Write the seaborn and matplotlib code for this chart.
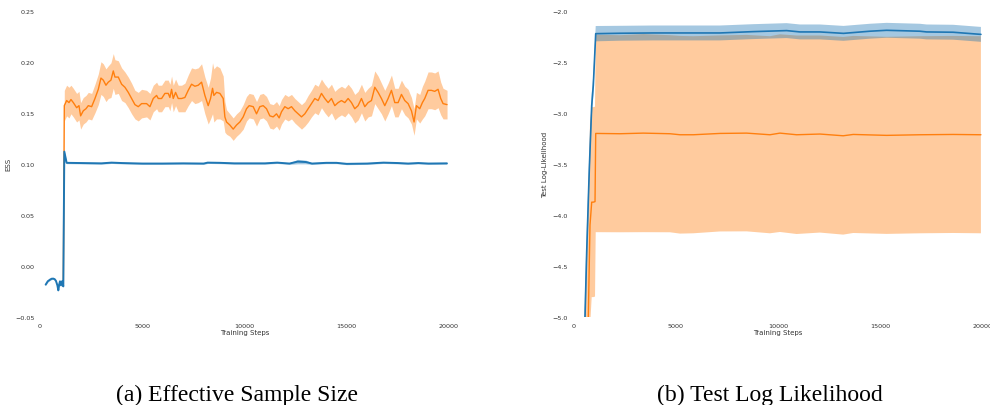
import numpy as np
import matplotlib
matplotlib.use("Agg")
import matplotlib.pyplot as plt
import seaborn as sns

# ESS, orange run (mean and half-width of the band)
ess_orange_steps = [1140, 1189, 1303, 1417, 1515, 1629, 1792, 1906, 1987, 2118,
                    2248, 2362, 2525, 2688, 2851, 2981, 3095, 3225, 3339, 3470,
                    3584, 3665, 3828, 3991, 4154, 4317, 4480, 4643, 4806, 4968,
                    5213, 5376, 5539, 5702, 5783, 5946, 6109, 6272, 6353, 6435,
                    6516, 6630, 6760, 6923, 7086, 7249, 7412, 7575, 7738, 7901,
                    8064, 8226, 8340, 8438, 8503, 8634, 8797, 8960, 9041, 9122,
                    9285, 9448, 9611, 9774, 9937, 10100, 10230, 10426, 10589, 10751,
                    10914, 11077, 11240, 11403, 11566, 11696, 11810, 11973, 12136, 12299,
                    12462, 12625, 12788, 12951, 13113, 13276, 13439, 13602, 13765, 13928,
                    14091, 14254, 14417, 14580, 14743, 14906, 15069, 15232, 15394, 15557,
                    15720, 15883, 16046, 16209, 16372, 16535, 16698, 16861, 17024, 17187,
                    17350, 17513, 17676, 17839, 18002, 18165, 18294, 18408, 18571, 18701,
                    18815, 18978, 19141, 19304, 19467, 19597, 19711, 19906]
ess_orange_mean = [-0.020, 0.157, 0.162, 0.160, 0.163, 0.160, 0.155, 0.157, 0.147, 0.152,
                   0.154, 0.157, 0.156, 0.164, 0.173, 0.184, 0.182, 0.177, 0.180, 0.182,
                   0.191, 0.185, 0.185, 0.178, 0.175, 0.170, 0.164, 0.158, 0.156, 0.159,
                   0.159, 0.156, 0.164, 0.167, 0.164, 0.164, 0.169, 0.169, 0.165, 0.173,
                   0.164, 0.170, 0.164, 0.164, 0.165, 0.172, 0.178, 0.176, 0.177, 0.180,
                   0.167, 0.157, 0.164, 0.174, 0.167, 0.170, 0.169, 0.164, 0.146, 0.141,
                   0.138, 0.134, 0.138, 0.141, 0.146, 0.154, 0.157, 0.156, 0.149, 0.156,
                   0.157, 0.154, 0.147, 0.146, 0.149, 0.145, 0.151, 0.156, 0.154, 0.156,
                   0.152, 0.149, 0.146, 0.149, 0.154, 0.159, 0.164, 0.162, 0.169, 0.164,
                   0.160, 0.164, 0.157, 0.160, 0.162, 0.160, 0.164, 0.160, 0.154, 0.157,
                   0.164, 0.156, 0.160, 0.162, 0.175, 0.170, 0.164, 0.157, 0.164, 0.172,
                   0.160, 0.160, 0.168, 0.162, 0.159, 0.152, 0.141, 0.157, 0.154, 0.160,
                   0.164, 0.172, 0.172, 0.171, 0.173, 0.164, 0.159, 0.158]
ess_orange_err = [0.0, 0.015, 0.015, 0.015, 0.014, 0.014, 0.014, 0.014, 0.013, 0.013,
                  0.013, 0.013, 0.013, 0.014, 0.015, 0.016, 0.016, 0.016, 0.016, 0.017,
                  0.017, 0.017, 0.016, 0.016, 0.015, 0.015, 0.015, 0.014, 0.014, 0.014,
                  0.013, 0.013, 0.013, 0.013, 0.013, 0.013, 0.013, 0.013, 0.013, 0.013,
                  0.013, 0.013, 0.013, 0.013, 0.014, 0.015, 0.016, 0.017, 0.017, 0.018,
                  0.018, 0.018, 0.020, 0.025, 0.026, 0.026, 0.025, 0.022, 0.015, 0.012,
                  0.011, 0.011, 0.011, 0.011, 0.012, 0.012, 0.012, 0.012, 0.012, 0.012,
                  0.012, 0.012, 0.012, 0.012, 0.012, 0.012, 0.012, 0.012, 0.012, 0.012,
                  0.012, 0.012, 0.012, 0.012, 0.013, 0.013, 0.014, 0.014, 0.014, 0.014,
                  0.014, 0.014, 0.014, 0.014, 0.014, 0.014, 0.014, 0.014, 0.014, 0.014,
                  0.014, 0.014, 0.014, 0.015, 0.016, 0.016, 0.015, 0.015, 0.015, 0.015,
                  0.014, 0.014, 0.014, 0.014, 0.014, 0.013, 0.013, 0.013, 0.014, 0.016,
                  0.017, 0.018, 0.018, 0.018, 0.018, 0.016, 0.015, 0.014]

# ESS, blue run
ess_blue_steps = [277, 380, 489, 570, 652, 720, 782, 850, 896, 940,
                  977, 1026, 1075, 1140, 1189, 1303, 2000, 3000, 3500, 4000,
                  5000, 6000, 7000, 8000, 8200, 8800, 9500, 10000, 11000, 11600,
                  12200, 12600, 13000, 13300, 14000, 14500, 15000, 16000, 16800, 17500,
                  18000, 18500, 19000, 19900]
ess_blue_mean = [-0.0183, -0.0150, -0.0134, -0.0125, -0.0124, -0.0130, -0.0147, -0.0190, -0.0239, -0.0180,
                 -0.0150, -0.0190, -0.0150, -0.0200, 0.1120, 0.1010, 0.1008, 0.1005, 0.1012, 0.1008,
                 0.1003, 0.1003, 0.1005, 0.1003, 0.1012, 0.1010, 0.1005, 0.1005, 0.1005, 0.1012,
                 0.1003, 0.1022, 0.1018, 0.1003, 0.1010, 0.1010, 0.1000, 0.1003, 0.1012, 0.1008,
                 0.1003, 0.1008, 0.1003, 0.1005]
ess_blue_err = [0.0008] * 31 + [0.0022, 0.0018] + [0.0008] * 11

# Test log likelihood, blue run
ll_blue_steps = [250, 571, 654, 781, 898, 977, 1094, 2279, 3904, 7160,
                 8784, 10414, 11063, 12039, 13190, 14480, 15294, 16919, 17245, 18544,
                 19900]
ll_blue_mean = [-8.0, -5.0, -4.36, -3.55, -2.93, -2.73, -2.225, -2.221, -2.218, -2.218,
                -2.205, -2.195, -2.208, -2.208, -2.222, -2.201, -2.192, -2.201, -2.208, -2.211,
                -2.232]
ll_blue_err = [0.3, 0.25, 0.2, 0.15, 0.12, 0.1, 0.075, 0.073, 0.073, 0.073,
               0.073, 0.073, 0.073, 0.073, 0.073, 0.073, 0.073, 0.073, 0.073, 0.073,
               0.073]

# Test log likelihood, orange run
ll_orange_steps = [250, 732, 815, 898, 977, 1060, 1094, 2279, 3416, 4720,
                   5208, 5859, 7160, 8462, 9600, 10088, 10902, 12039, 13176, 13664,
                   15294, 16919, 18544, 19900]
ll_orange_mean = [-8.0, -5.0, -4.10, -3.875, -3.875, -3.87, -3.202, -3.205, -3.199, -3.205,
                  -3.215, -3.215, -3.202, -3.199, -3.215, -3.199, -3.215, -3.208, -3.225, -3.212,
                  -3.221, -3.215, -3.212, -3.215]
ll_orange_err = [1.2, 1.1, 1.0, 0.93, 0.93, 0.93, 0.967, 0.965, 0.97, 0.965,
                 0.968, 0.965, 0.96, 0.962, 0.965, 0.968, 0.972, 0.965, 0.968, 0.965,
                 0.965, 0.965, 0.965, 0.965]

blue = "#1f77b4"
orange = "#ff7f0e"

sns.set_style("white")
plt.rcParams["font.family"] = ["DejaVu Sans"]

fig = plt.figure(figsize=(9.9, 4.06), dpi=100)
ax1 = fig.add_axes([0.0404, 0.2167, 0.4131, 0.7545])
ax2 = fig.add_axes([0.5791, 0.2167, 0.4138, 0.7545])


def band(ax, steps, mean, err, color, lw):
    steps = np.array(steps)
    mean = np.array(mean)
    err = np.array(err)
    ax.fill_between(steps, mean - err, mean + err, color=color, alpha=0.4, lw=0)
    sns.lineplot(x=steps, y=mean, color=color, lw=lw, ax=ax)


band(ax1, ess_orange_steps, ess_orange_mean, ess_orange_err, orange, 1.0)
band(ax1, ess_blue_steps, ess_blue_mean, ess_blue_err, blue, 1.4)
ax1.set_xlim(0, 20000)
ax1.set_ylim(-0.05, 0.25)
ax1.set_yticks([-0.05, 0.0, 0.05, 0.10, 0.15, 0.20, 0.25])
ax1.set_ylabel("ESS", fontsize=5, color="#333333", labelpad=3)

band(ax2, ll_orange_steps, ll_orange_mean, ll_orange_err, orange, 1.0)
band(ax2, ll_blue_steps, ll_blue_mean, ll_blue_err, blue, 1.2)
ax2.set_xlim(0, 20000)
ax2.set_ylim(-5.0, -2.0)
ax2.set_yticks([-5.0, -4.5, -4.0, -3.5, -3.0, -2.5, -2.0])
ax2.set_ylabel("Test Log-Likelihood", fontsize=5, color="#333333", labelpad=3)

for ax in (ax1, ax2):
    ax.set_xticks([0, 5000, 10000, 15000, 20000])
    ax.set_xlabel("Training Steps", fontsize=5, color="#333333", labelpad=1)
    ax.tick_params(length=0, labelsize=4.6, labelcolor="#333333", pad=4)
    sns.despine(ax=ax, left=True, bottom=True)

fig.text(0.2394, 0.027, "(a) Effective Sample Size", ha="center", va="center",
         family="Liberation Serif", fontsize=17, color="black")
fig.text(0.7778, 0.027, "(b) Test Log Likelihood", ha="center", va="center",
         family="Liberation Serif", fontsize=17, color="black")

fig.savefig("out.png", dpi=100)
